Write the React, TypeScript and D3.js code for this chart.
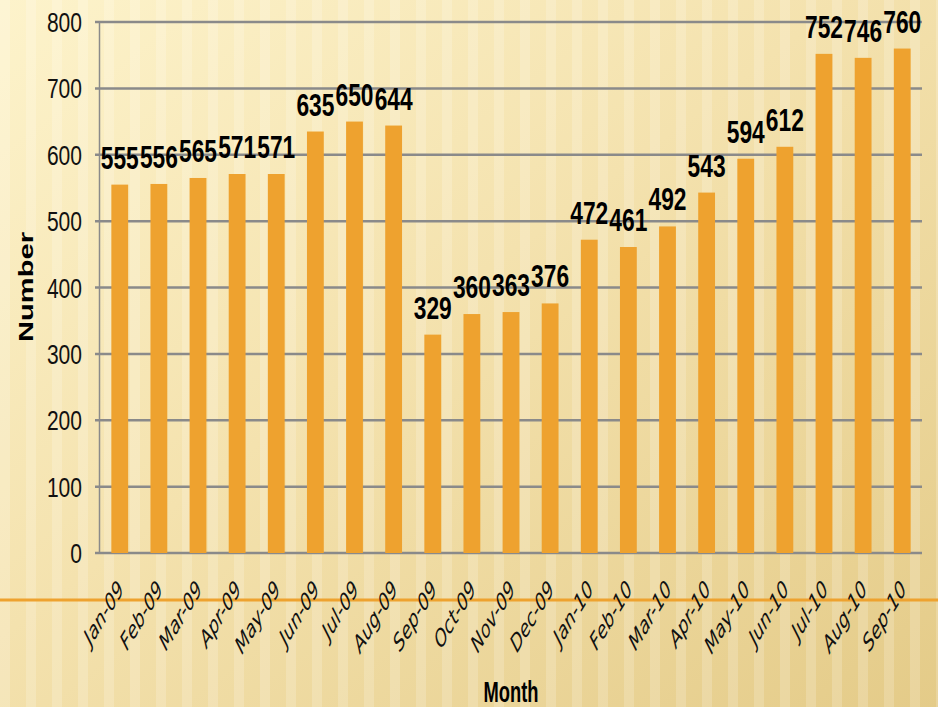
import React, { useEffect, useRef } from "react";
import * as d3 from "d3";

const months = [
  "Jan-09", "Feb-09", "Mar-09", "Apr-09", "May-09", "Jun-09", "Jul-09",
  "Aug-09", "Sep-09", "Oct-09", "Nov-09", "Dec-09", "Jan-10", "Feb-10",
  "Mar-10", "Apr-10", "May-10", "Jun-10", "Jul-10", "Aug-10", "Sep-10",
];
const counts = [
  555, 556, 565, 571, 571, 635, 650, 644, 329, 360, 363, 376, 472, 461,
  492, 543, 594, 612, 752, 746, 760,
];
const yTicks = [0, 100, 200, 300, 400, 500, 600, 700, 800];

export default function App() {
  const ref = useRef<SVGSVGElement>(null);

  useEffect(() => {
    const width = 938;
    const height = 707;
    const left = 100;
    const right = 922;
    const top = 22;
    const bottom = 553;
    const orange = "#EEA22F";
    const grid = "#8A8A8A";

    const svg = d3.select(ref.current);
    svg.selectAll("*").remove();

    // background
    const defs = svg.append("defs");
    const grad = defs
      .append("linearGradient")
      .attr("id", "bg")
      .attr("x1", "0")
      .attr("y1", "0")
      .attr("x2", "1")
      .attr("y2", "1");
    grad.append("stop").attr("offset", "0%").attr("stop-color", "#FDF3CB");
    grad.append("stop").attr("offset", "45%").attr("stop-color", "#F4E2AE");
    grad.append("stop").attr("offset", "100%").attr("stop-color", "#E4CB88");

    const stripes = defs
      .append("pattern")
      .attr("id", "stripes")
      .attr("width", 26)
      .attr("height", 10)
      .attr("patternUnits", "userSpaceOnUse");
    stripes
      .append("rect")
      .attr("width", 10)
      .attr("height", 10)
      .attr("fill", "#ffffff")
      .attr("opacity", 0.18);

    svg.append("rect").attr("width", width).attr("height", height).attr("fill", "url(#bg)");
    svg.append("rect").attr("width", width).attr("height", height).attr("fill", "url(#stripes)");

    const x = d3.scaleBand().domain(months).range([left, right]).paddingInner(0.57).paddingOuter(0.29);
    const y = d3.scaleLinear().domain([0, 800]).range([bottom, top]);

    // gridlines + tick marks
    svg
      .append("g")
      .selectAll("line")
      .data(yTicks)
      .enter()
      .append("line")
      .attr("x1", left - 5)
      .attr("x2", right)
      .attr("y1", (d) => y(d))
      .attr("y2", (d) => y(d))
      .attr("stroke", grid)
      .attr("stroke-width", 2.5);

    svg
      .append("line")
      .attr("x1", left - 0.5)
      .attr("x2", left - 0.5)
      .attr("y1", top)
      .attr("y2", bottom)
      .attr("stroke", grid)
      .attr("stroke-width", 1.5);

    svg
      .append("g")
      .selectAll("text")
      .data(yTicks)
      .enter()
      .append("text")
      .attr("x", 82)
      .attr("y", (d) => y(d))
      .attr("dy", "0.36em")
      .attr("text-anchor", "end")
      .attr("font-family", "Liberation Sans, Arial, sans-serif")
      .attr("font-size", 28)
      .attr("textLength", (d) => String(d).length * 11.7)
      .attr("lengthAdjust", "spacingAndGlyphs")
      .attr("fill", "#111")
      .text((d) => d);

    // bars
    svg
      .append("g")
      .selectAll("rect")
      .data(counts)
      .enter()
      .append("rect")
      .attr("x", (d, i) => x(months[i]) as number)
      .attr("y", (d) => y(d))
      .attr("width", x.bandwidth())
      .attr("height", (d) => bottom - y(d))
      .attr("fill", orange);

    // value labels
    svg
      .append("g")
      .selectAll("text")
      .data(counts)
      .enter()
      .append("text")
      .attr("x", (d, i) => (x(months[i]) as number) + x.bandwidth() / 2)
      .attr("y", (d) => y(d) - 16)
      .attr("text-anchor", "middle")
      .attr("font-family", "Liberation Sans, Arial, sans-serif")
      .attr("font-weight", "bold")
      .attr("font-size", 32)
      .attr("textLength", 38)
      .attr("lengthAdjust", "spacingAndGlyphs")
      .attr("fill", "#000")
      .text((d) => d);

    // orange rule
    svg
      .append("line")
      .attr("x1", 0)
      .attr("x2", width)
      .attr("y1", 600)
      .attr("y2", 600)
      .attr("stroke", orange)
      .attr("stroke-width", 3);

    // month labels
    svg
      .append("g")
      .selectAll("text")
      .data(months)
      .enter()
      .append("text")
      .attr(
        "transform",
        (d) => `translate(${(x(d) as number) + x.bandwidth() / 2 + 5},${590}) scale(1,1.5) rotate(-48)`
      )
      .attr("text-anchor", "end")
      .attr("font-family", "DejaVu Sans, sans-serif")
      .attr("font-style", "italic")
      .attr("font-size", 16)
      .attr("fill", "#111")
      .text((d) => d);

    // axis titles
    svg
      .append("text")
      .attr("transform", "translate(33,287) rotate(-90)")
      .attr("text-anchor", "middle")
      .attr("font-family", "Liberation Sans, Arial, sans-serif")
      .attr("font-weight", "bold")
      .attr("font-size", 21)
      .attr("textLength", 110)
      .attr("lengthAdjust", "spacingAndGlyphs")
      .attr("fill", "#000")
      .text("Number");

    svg
      .append("text")
      .attr("x", 511)
      .attr("y", 702)
      .attr("text-anchor", "middle")
      .attr("font-family", "Liberation Sans, Arial, sans-serif")
      .attr("font-weight", "bold")
      .attr("font-size", 30)
      .attr("textLength", 55)
      .attr("lengthAdjust", "spacingAndGlyphs")
      .attr("fill", "#000")
      .text("Month");
  }, []);

  return (
    <svg
      ref={ref}
      width={938}
      height={707}
      style={{ position: "absolute", left: 0, top: 0, display: "block" }}
    />
  );
}
